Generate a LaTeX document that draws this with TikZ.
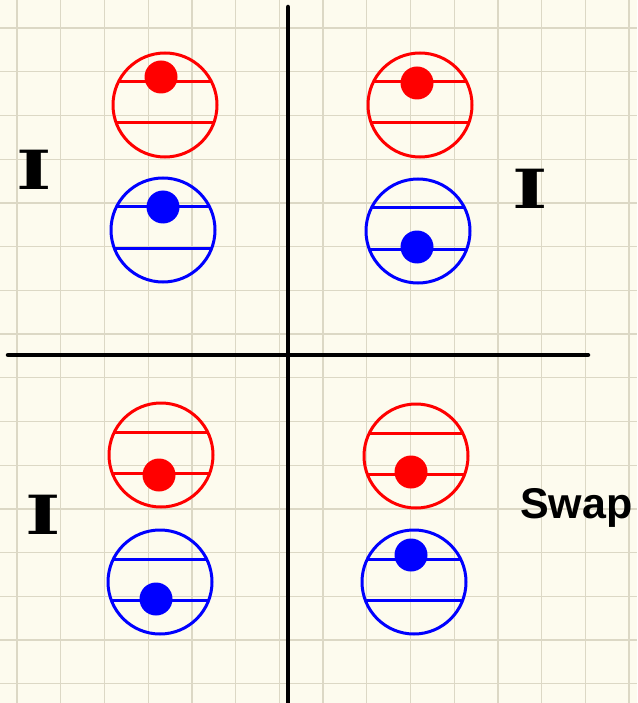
\documentclass[tikz,border=0pt]{standalone}
\usepackage{fontspec}
\usetikzlibrary{calc}
\newfontfamily\markfont{DejaVu Serif}
\newfontfamily\swapfont{Liberation Sans}
\definecolor{paper}{HTML}{FDFBEE}
\definecolor{gridc}{HTML}{DCD8C5}
\begin{document}
\begin{tikzpicture}[x=1pt,y=-1pt,
  gridline/.style={draw=gridc, line width=1.3pt},
  axis/.style={draw=black, line width=4.5pt, line cap=round},
  qubit/.style={circle, draw=#1, line width=3pt, minimum size=104pt, inner sep=0pt},
  chord/.style={draw=#1, line width=3pt},
  qdot/.style={circle, fill=#1, minimum size=33pt, inner sep=0pt},
  idmark/.style={font=\markfont\bfseries\fontsize{54}{54}\selectfont, inner sep=0pt},
  swaplabel/.style={font=\swapfont\bfseries\fontsize{43}{43}\selectfont, inner sep=0pt, anchor=base west}
]
\useasboundingbox (0,0) rectangle (637,703);
\fill[paper] (0,0) rectangle (637,703);
% grid
\foreach \i in {0,...,14} \draw[gridline] ({17+43.72*\i},0) -- ({17+43.72*\i},703);
\foreach \j in {0,...,15} \draw[gridline] (0,{28+43.72*\j}) -- (637,{28+43.72*\j});
% axes
\coordinate (vtop) at (288,7);
\coordinate (vbot) at (288,705);
\coordinate (hleft) at (8,355);
\coordinate (hright) at (588,355);
\draw[axis] (vtop) -- (vbot);
\draw[axis] (hleft) -- (hright);
% qubits
\foreach \n/\cx/\cy/\col/\dx/\dy in {
  q1/165/105/red/161/77,
  q2/163/230/blue/163/207,
  q3/420/105/red/417/83,
  q4/418/231/blue/417/247,
  q5/161/455/red/159/475,
  q6/160/582/blue/156/599,
  q7/416/456/red/411/472,
  q8/414/582/blue/411/555}{
  \node[qubit=\col] (\n) at (\cx,\cy) {};
  \draw[chord=\col] ($(\n.center)+(-46.6,-23)$) -- ($(\n.center)+(46.6,-23)$);
  \draw[chord=\col] ($(\n.center)+(-48.8,18)$) -- ($(\n.center)+(48.8,18)$);
  \node[qdot=\col] (\n d) at (\dx,\dy) {};
}
% labels
\node[idmark] (i1) at (34,170) {\scalebox{1.4}[1]{I}};
\node[idmark] (i2) at (530,189) {\scalebox{1.4}[1]{I}};
\node[idmark] (i3) at (43,515) {\scalebox{1.4}[1]{I}};
\node[swaplabel] (swap) at (520,518) {Swap};
\end{tikzpicture}
\end{document}
